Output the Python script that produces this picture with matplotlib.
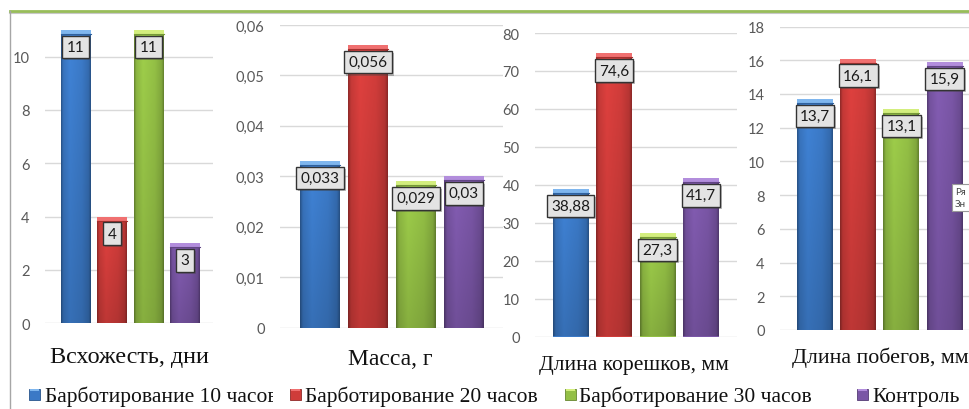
import numpy as np
import matplotlib
matplotlib.use("Agg")
import matplotlib.pyplot as plt
from matplotlib.patches import Rectangle
from matplotlib.ticker import FuncFormatter
from matplotlib import patheffects as pe

# --- данные ---
series = ["Барботирование 10 часов", "Барботирование 20 часов",
          "Барботирование 30 часов", "Контроль"]
titles = ["Всхожесть, дни", "Масса, г", "Длина корешков, мм", "Длина побегов, мм"]

vskhozhest = [11, 4, 11, 3]
massa = [0.033, 0.056, 0.029, 0.03]
koreshki = [38.88, 74.6, 27.3, 41.7]
pobegi = [13.7, 16.1, 13.1, 15.9]

ticks_vskhozhest = [0, 2, 4, 6, 8, 10]
ticks_massa = [0, 0.01, 0.02, 0.03, 0.04, 0.05, 0.06]
ticks_koreshki = [0, 10, 20, 30, 40, 50, 60, 70, 80]
ticks_pobegi = [0, 2, 4, 6, 8, 10, 12, 14, 16, 18]

# --- оформление ---
W, H = 969, 410
colors = ["#3b79c6", "#cf3c3a", "#93bf45", "#7a56a6"]
caps = ["#7fb6ee", "#f07070", "#d3ee7e", "#b28ddc"]
sans = ["Lato", "DejaVu Sans"]
serif = ["Liberation Serif", "DejaVu Serif"]

# положение каждой диаграммы в пикселях:
# (лево, право, верх, низ, ymax, центр 1-го столбца, шаг, ширина столбца)
layout = [
    (45, 213, 12, 324.3, 11.71, 75.5, 36.5, 30),
    (280, 503, 26, 328.5, 0.06, 320, 48, 40),
    (535, 737, 34, 337.5, 80, 570.5, 43.5, 36),
    (780, 969, 27.5, 331, 18, 815, 43.2, 36),
]
title_pos = [(129, 363), (390, 365), (634, 370), (880, 363)]
title_size = [17.4, 17.0, 15.6, 15.8]


def fmt(v):
    return f"{v:g}".replace(".", ",")


def fx(px):
    return px / W


def fy(py):
    return 1 - py / H


def shade(base, factor):
    rgb = np.array(matplotlib.colors.to_rgb(base))
    return np.clip(rgb * factor, 0, 1)


fig = plt.figure(figsize=(W / 100, H / 100), dpi=100)
fig.patch.set_facecolor("white")

panels = [
    (vskhozhest, ticks_vskhozhest),
    (massa, ticks_massa),
    (koreshki, ticks_koreshki),
    (pobegi, ticks_pobegi),
]

# объёмная заливка столбцов: тёмные края, светлая середина, низ чуть темнее
xs = np.linspace(0, 1, 64)
prof = np.interp(xs, [0, 0.07, 0.3, 0.7, 0.93, 1], [0.7, 0.95, 1.07, 1.0, 0.88, 0.68])
vert = np.linspace(0.86, 1.02, 64)

for (vals, ticks), (l, r, t, b, ymax, c0, step, w), title, (tx, ty), tsz in zip(
        panels, layout, titles, title_pos, title_size):
    ax = fig.add_axes([fx(l), fy(b), fx(r - l), (b - t) / H])
    ax.patch.set_alpha(0)
    for s in ax.spines.values():
        s.set_visible(False)
    x = np.arange(len(vals))
    bars = ax.bar(x, vals, width=w / step, color=colors, zorder=2)
    xlim = ((l - c0) / step, (r - c0) / step)
    unit_px = (b - t) / ymax
    for i, rect in enumerate(bars):
        img = np.empty((64, 64, 3))
        for k in range(3):
            img[:, :, k] = np.outer(vert, prof) * matplotlib.colors.to_rgb(colors[i])[k]
        img = np.clip(img, 0, 1)
        x0 = rect.get_x()
        im = ax.imshow(img, extent=[x0, x0 + rect.get_width(), 0, vals[i]],
                       origin="lower", aspect="auto", zorder=2.1,
                       interpolation="bilinear")
        im.set_clip_path(rect)
        cap_h = 4 / unit_px
        ax.add_patch(Rectangle((x0, vals[i] - cap_h), rect.get_width(), cap_h,
                               facecolor=caps[i], edgecolor="none", zorder=2.2))
        ax.plot([x0, x0 + rect.get_width()], [vals[i] - cap_h] * 2,
                color=shade(colors[i], 0.8), lw=0.8, zorder=2.3)
        ann = ax.annotate(fmt(vals[i]), xy=(i, vals[i]), xytext=(0, -17 * 0.72),
                          textcoords="offset points", ha="center", va="center",
                          fontsize=11, family=sans, color="#1a1a1a", zorder=5,
                          bbox=dict(boxstyle="square,pad=0.28", fc="#e3e3e3",
                                    ec="#333333", lw=1))
        ann.get_bbox_patch().set_path_effects(
            [pe.SimplePatchShadow(offset=(1.5, -1.5), alpha=0.35), pe.Normal()])
    ax.set_xlim(*xlim)
    ax.set_ylim(0, ymax)
    ax.set_xticks([])
    ax.set_yticks(ticks)
    ax.yaxis.set_major_formatter(FuncFormatter(lambda v, p: fmt(round(v, 4))))
    ax.tick_params(axis="y", length=0, pad=11, labelsize=10.5, labelcolor="#595959")
    for lab in ax.get_yticklabels():
        lab.set_family(sans)
    ax.grid(axis="y", color="#d9d9d9", lw=1, zorder=0)
    ax.set_axisbelow(True)
    fig.text(fx(tx), fy(ty), title, ha="center", va="baseline",
             fontsize=tsz, family=serif, color="#111111")

# рамка области диаграмм
fig.add_artist(plt.Line2D([fx(10), 1], [fy(13.5), fy(13.5)], color="#c8c8c8", lw=1.5))
fig.add_artist(plt.Line2D([fx(10), 1], [fy(12), fy(12)], color="#98bd5a", lw=2))
fig.add_artist(plt.Line2D([fx(10), fx(10)], [fy(12), 0], color="#a6a6a6", lw=1))

# легенда
leg_sq = [29, 290, 565, 857]
leg_txt = [45, 305, 579, 872]
for i, name in enumerate(series):
    fig.add_artist(Rectangle((fx(leg_sq[i]), fy(401)), fx(11), 11 / H,
                             facecolor=colors[i], edgecolor=shade(colors[i], 0.7),
                             lw=0.6))
    fig.add_artist(Rectangle((fx(leg_sq[i] + 1), fy(392)), fx(9), 2 / H,
                             facecolor=caps[i], edgecolor="none"))
    txt = fig.text(fx(leg_txt[i]), fy(402.5), name, ha="left", va="baseline",
                   fontsize=15.5, family=serif, color="#111111")
    if i == 0:
        clip = Rectangle((0, 0), fx(273), 1, transform=fig.transFigure)
        txt.set_clip_path(clip)

# всплывающая подсказка у правого края
fig.add_artist(Rectangle((fx(952), fy(212)), fx(20), 27 / H, facecolor="white",
                         edgecolor="#9a9a9a", lw=0.8, zorder=6))
fig.text(fx(955), fy(195), "Ря", fontsize=7, family=sans, color="#444444",
         va="baseline", zorder=7)
fig.text(fx(955), fy(207), "Зн", fontsize=7, family=sans, color="#444444",
         va="baseline", zorder=7)

fig.savefig("out.png", dpi=100)
